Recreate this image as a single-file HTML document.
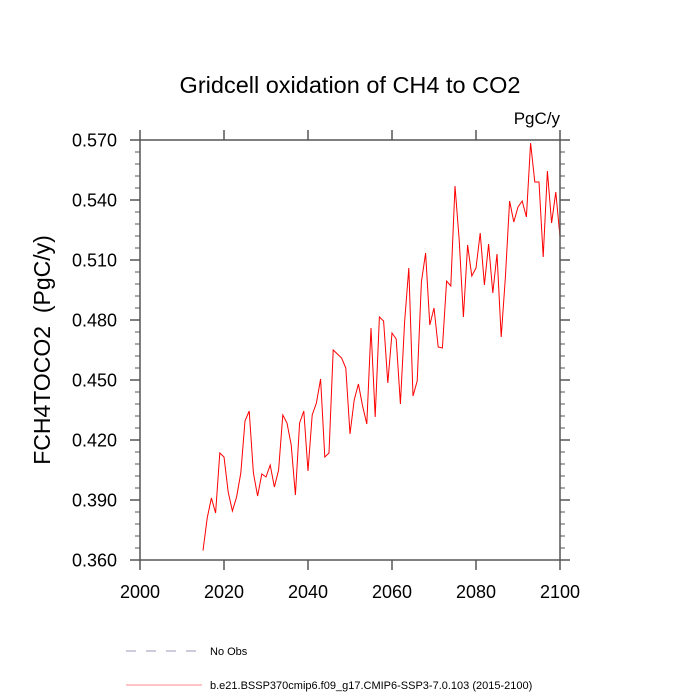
<!DOCTYPE html>
<html><head><meta charset="utf-8"><style>
html,body{margin:0;padding:0;background:#fff;}
svg{display:block;font-family:"Liberation Sans",sans-serif;}
</style></head><body>
<svg id="chart" width="700" height="700">
<text x="350" y="93" font-size="23.5" text-anchor="middle">Gridcell oxidation of CH4 to CO2</text>
<text x="560" y="124" font-size="17" text-anchor="end">PgC/y</text>
<text transform="translate(50,350) rotate(-90)" font-size="23" text-anchor="middle">FCH4TOCO2&#160; (PgC/y)</text>
<g id="axes"></g>
<path id="series" fill="none" stroke="#ff0000" stroke-width="1"></path>
<rect x="140" y="140" width="420" height="420" fill="none" stroke="#555" stroke-width="1.5"/>
<g>
<line x1="126" y1="651" x2="200" y2="651" stroke="#9999bb" stroke-dasharray="10,10"/>
<text x="210" y="655" font-size="11">No Obs</text>
<line x1="126" y1="685" x2="202" y2="685" stroke="#ff8888"/>
<text x="210" y="689" font-size="11">b.e21.BSSP370cmip6.f09_g17.CMIP6-SSP3-7.0.103 (2015-2100)</text>
</g>
</svg>
<script>
const xTicks=[2000,2020,2040,2060,2080,2100];
const yTicks=[0.360,0.390,0.420,0.450,0.480,0.510,0.540,0.570];
const startYear=2015;
const values=[0.3647,0.381,0.391,0.3835,0.4135,0.4115,0.394,0.3845,0.3915,0.4035,
0.4295,0.4345,0.4035,0.392,0.403,0.4015,0.4075,0.3965,0.405,0.4325,
0.4285,0.4175,0.3925,0.4285,0.4345,0.4045,0.4325,0.4385,0.4505,0.4115,
0.4135,0.465,0.463,0.461,0.456,0.423,0.440,0.448,0.437,0.428,
0.476,0.4315,0.4815,0.4795,0.4485,0.4735,0.4705,0.438,0.479,0.506,
0.442,0.4495,0.499,0.5135,0.4775,0.486,0.4665,0.466,0.4995,0.497,
0.547,0.52,0.4815,0.5175,0.502,0.506,0.5235,0.4975,0.518,0.4935,
0.513,0.4715,0.5015,0.5395,0.529,0.5365,0.5395,0.5315,0.5685,0.549,
0.549,0.5115,0.5545,0.5285,0.544,0.5215];
const X0=140,X1=560,Y0=560,Y1=140;
const xs=v=>X0+(v-2000)/100*(X1-X0);
const ys=v=>Y0-(v-0.36)/0.21*(Y0-Y1);
const NS='http://www.w3.org/2000/svg';
const ax=document.getElementById('axes');
function ln(x1,y1,x2,y2,w){const l=document.createElementNS(NS,'line');l.setAttribute('x1',x1);l.setAttribute('y1',y1);l.setAttribute('x2',x2);l.setAttribute('y2',y2);l.setAttribute('stroke','#555');l.setAttribute('stroke-width',w);ax.appendChild(l);return l;}
function tx(x,y,s,anchor){const t=document.createElementNS(NS,'text');t.setAttribute('x',x);t.setAttribute('y',y);t.setAttribute('font-size','18');t.setAttribute('text-anchor',anchor);t.textContent=s;ax.appendChild(t);return t;}
xTicks.forEach(v=>{const x=xs(v);
const a=ln(x,Y0,x,Y0+10,1.5);


const b=ln(x,Y1,x,Y1-10,1.5);


const t=tx(x,Y0+38,String(v),'middle');

});
yTicks.forEach((v,i)=>{const y=ys(v);
const a=ln(X0-10,y,X0,y,1.5);


const b=ln(X1,y,X1+10,y,1.5);


const t=tx(X0-23,y+6.5,v.toFixed(3),'end');


if(i<yTicks.length-1){for(let k=1;k<5;k++){const ym=ys(v+0.006*k);
const m=ln(X0-5,ym,X0,ym,1);


const m2=ln(X1,ym,X1+5,ym,1);

}}});
document.getElementById('series').setAttribute('d',values.map((v,i)=>(i?'L':'M')+xs(startYear+i).toFixed(2)+','+ys(v).toFixed(2)).join(''));
</script>
</body></html>
